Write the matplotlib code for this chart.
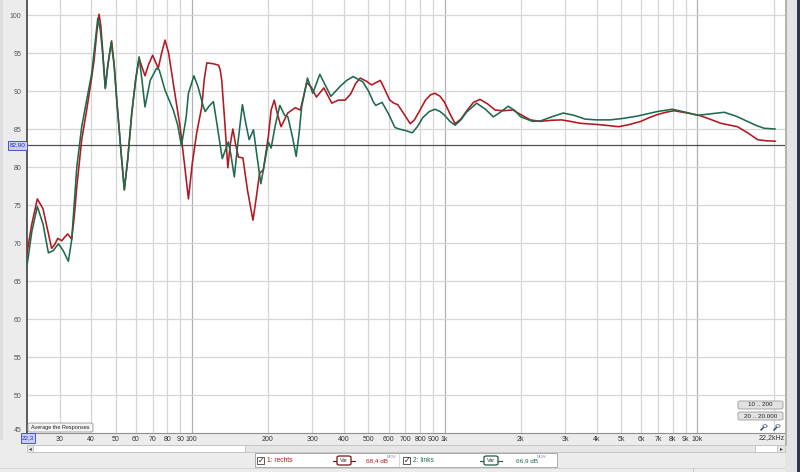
import matplotlib
matplotlib.use('Agg')
import matplotlib.pyplot as plt
from matplotlib.patches import Rectangle, FancyBboxPatch, Circle
from matplotlib.lines import Line2D

# ---------------- data ----------------
freq_rechts = [22.3, 23.3, 24.5, 25.8, 27.0, 27.9, 28.7, 29.5, 30.6, 31.5, 32.3, 33.5, 34.3,
               35.1, 36.7, 38.4, 40.2, 41.1, 42.2, 43.0, 43.7, 44.4, 45.5, 46.6, 48.2, 49.3,
               50.5, 52.5, 54.1, 55.8, 57.9, 60.0, 61.9, 63.5, 65.3, 67.5, 70.0, 73.7, 76.0,
               78.4, 81.0, 84.5, 89.9, 93.5, 97.0, 100.5, 104.6, 109.5, 112, 114.7, 121, 127.6,
               129.5, 131.4, 135, 138.9, 142, 145.4, 149, 153, 159.3, 166, 174.6, 180, 185.4,
               191.8, 200.8, 206, 212, 218, 225.5, 239.7, 256.6, 268.9, 285, 297, 311, 333, 358,
               380, 404, 425, 445, 464, 490, 514, 535, 557, 580, 607, 630, 653, 690, 731, 760,
               800, 840, 880, 916, 960, 1000, 1050, 1100, 1160, 1230, 1300, 1380, 1480, 1583,
               1700, 1862, 2000, 2183, 2391, 2650, 2900, 3150, 3435, 4000, 4450, 4880, 5400,
               5965, 6450, 6951, 7500, 8087, 9139, 10162, 11200, 12377, 14400, 15800, 17300,
               18700, 20270]
db_rechts = [68.7, 72.5, 75.8, 74.5, 71.5, 69.3, 69.8, 70.6, 70.3, 70.8, 71.2, 70.5, 73.5,
             77.4, 83.6, 87.5, 91.8, 94.1, 98.0, 100.1, 98.5, 95.4, 90.4, 93.5, 96.6, 93.5,
             88.8, 82.0, 77.0, 81.0, 87.1, 91.5, 94.3, 93.2, 92.0, 93.5, 94.7, 93.0, 95.0,
             96.7, 95.0, 91.0, 85.3, 80.5, 75.8, 80.5, 84.5, 87.9, 91.5, 93.7, 93.6, 93.4,
             92.8, 91.4, 86.0, 79.9, 83.0, 85.0, 83.0, 81.3, 81.2, 77.0, 73.0, 76.0, 79.2,
             79.6, 84.0, 87.5, 88.8, 87.0, 85.3, 87.1, 87.8, 87.5, 91.1, 90.5, 89.2, 90.4, 88.4,
             88.8, 88.8, 89.6, 91.0, 91.7, 91.3, 90.8, 91.1, 91.4, 90.2, 88.8, 88.4, 88.2, 87.0,
             85.7, 86.2, 87.5, 88.8, 89.5, 89.7, 89.3, 88.5, 87.0, 85.7, 86.3, 87.5, 88.5, 88.9,
             88.3, 87.5, 87.4, 87.5, 86.9, 86.2, 86.0, 86.15, 86.2, 86.0, 85.75, 85.6, 85.45,
             85.3, 85.6, 86.0, 86.5, 86.9, 87.2, 87.4, 87.1, 86.8, 86.3, 85.75, 85.3, 84.5, 83.6,
             83.45, 83.4]

freq_links = [22.3, 23.3, 24.5, 25.8, 27.1, 28.3, 29.7, 31.0, 32.5, 33.5, 35.1, 36.7, 38.4,
              40.2, 42.5, 43.5, 44.4, 45.5, 46.6, 48.0, 49.3, 50.5, 52.5, 54.1, 55.8, 57.9,
              60.0, 61.9, 63.5, 65.3, 68.5, 72.6, 74.3, 78.4, 84.5, 88.0, 91.0, 95.0, 97.0,
              102, 106, 111, 113, 117, 121.8, 126, 132, 139.5, 143, 147.3, 152, 158.6, 163,
              168.6, 175.4, 181, 187.6, 194, 200.8, 206, 214, 223, 233, 240, 250, 258.8, 266,
              272, 286.8, 301, 321, 355, 386, 410, 435, 475, 500, 522, 534, 566, 600, 636, 660,
              700, 745, 780, 820, 870, 916, 960, 1000, 1050, 1100, 1160, 1220, 1338, 1450,
              1559, 1660, 1784, 1900, 2000, 2230, 2391, 2650, 2946, 3250, 3597, 4000, 4518,
              5100, 5785, 6951, 7963, 9000, 10017, 11300, 12765, 14200, 15760, 17000, 18330,
              20270]
db_links = [67.0, 71.5, 74.8, 72.5, 68.7, 69.0, 69.9, 69.0, 67.6, 70.4, 80.0, 85.3, 88.8,
            92.3, 99.6, 98.0, 95.0, 90.3, 93.5, 96.4, 93.5, 88.8, 82.0, 77.0, 81.0, 87.1,
            91.5, 94.5, 91.5, 87.9, 91.4, 93.0, 92.8, 90.1, 87.5, 85.5, 82.8, 86.5, 89.7,
            92.0, 90.5, 88.0, 87.3, 88.0, 88.6, 85.5, 81.1, 83.3, 81.5, 78.7, 83.0, 88.2, 86.0,
            83.6, 84.9, 81.5, 77.8, 80.5, 83.3, 82.5, 85.5, 88.1, 86.8, 86.6, 84.0, 81.4, 84.5,
            87.9, 91.7, 89.7, 92.2, 89.3, 90.6, 91.4, 91.9, 91.2, 90.0, 88.6, 88.1, 88.5, 87.0,
            85.2, 85.0, 84.8, 84.5, 85.3, 86.5, 87.3, 87.6, 87.3, 86.8, 86.0, 85.5, 86.2, 87.2,
            88.4, 87.6, 86.6, 87.2, 88.0, 87.4, 86.6, 86.0, 86.05, 86.6, 87.1, 86.8, 86.3,
            86.2, 86.2, 86.4, 86.7, 87.3, 87.6, 87.2, 86.8, 87.0, 87.2, 86.7, 86.0, 85.5, 85.1,
            85.0]

grid_freqs = [30, 40, 50, 60, 70, 80, 90, 100, 200, 300, 400, 500, 600, 700, 800, 900,
              1000, 2000, 3000, 4000, 5000, 6000, 7000, 8000, 9000, 10000, 20000]
tick_freqs = [30, 40, 50, 60, 70, 80, 90, 100, 200, 300, 400, 500, 600, 700, 800, 900,
              1000, 2000, 3000, 4000, 5000, 6000, 7000, 8000, 9000, 10000]
tick_labels = ['30', '40', '50', '60', '70', '80', '90', '100', '200', '300', '400', '500',
               '600', '700', '800', '900', '1k', '2k', '3k', '4k', '5k', '6k', '7k', '8k',
               '9k', '10k']
db_ticks = [50, 55, 60, 65, 70, 75, 80, 85, 90, 95, 100]
ref_level = 82.90
legend_names = ['1: rechts', '2: links']
legend_values = ['68,4 dB', '66,9 dB']

RED = '#b3161f'
GREEN = '#1d6b4c'
FONT = 'Liberation Sans'

W, H = 800, 472
fig = plt.figure(figsize=(8, 4.72), dpi=100)
fig.patch.set_facecolor('#ececec')


def fx(x):
    return x / W


def fy(y):
    return 1 - y / H


# left panel slightly darker strip
fig.patches.append(Rectangle((0, fy(440)), fx(3), 440 / H, transform=fig.transFigure,
                             facecolor='#dedede', edgecolor='none'))

ax = fig.add_axes([fx(27), fy(433), (785 - 27) / W, 433 / H])
ax.set_facecolor('white')
ax.set_xscale('log')
ax.set_xlim(22.3, 22200)
ax.set_ylim(45, 100 + 15 / 7.6)

for f in grid_freqs:
    c = '#b0b0b0' if f in (100, 1000, 10000) else '#d6d6d6'
    ax.axvline(f, color=c, lw=0.9, zorder=1)
for d in range(50, 101, 5):
    ax.axhline(d, color='#d6d6d6', lw=0.9, zorder=1)

ax.axhline(ref_level, color='#505050', lw=0.9, zorder=2)

ax.plot(freq_rechts, db_rechts, color=RED, lw=1.15, zorder=3, solid_joinstyle='round')
ax.plot(freq_links, db_links, color=GREEN, lw=1.15, zorder=4, solid_joinstyle='round')

ax.set_xticks(tick_freqs)
ax.set_xticklabels(tick_labels)
ax.xaxis.set_minor_locator(matplotlib.ticker.NullLocator())
ax.set_yticks(db_ticks)
ax.set_yticklabels([str(v) for v in db_ticks])
ax.tick_params(axis='x', length=0, pad=2.5, labelsize=5, labelcolor='#333333')
ax.tick_params(axis='y', length=0, pad=4, labelsize=5, labelcolor='#555555')
for lab in ax.get_xticklabels() + ax.get_yticklabels():
    lab.set_fontfamily(FONT)

for s in ('top', 'right'):
    ax.spines[s].set_visible(False)
ax.spines['left'].set_color('#404040')
ax.spines['left'].set_linewidth(1.2)
ax.spines['bottom'].set_color('#909090')
ax.spines['bottom'].set_linewidth(0.8)

# "45" label at bottom of y axis
fig.text(fx(22), fy(430), '45', fontsize=5, ha='right', va='center', color='#555555',
         family=FONT)


def blue_box(x0, y0, x1, y1, txt):
    fig.patches.append(Rectangle((fx(x0), fy(y1)), (x1 - x0) / W, (y1 - y0) / H,
                                 transform=fig.transFigure, facecolor='#c9cdf5',
                                 edgecolor='#4a52c8', lw=0.7, zorder=10))
    fig.text(fx((x0 + x1) / 2), fy((y0 + y1) / 2), txt, fontsize=4.6, ha='center',
             va='center', color='#2a32b0', family=FONT, zorder=11)


blue_box(8, 141, 27, 149.5, '82,90')
blue_box(21, 433, 35, 443, '22,3')

fig.text(fx(785), fy(438), '22,2kHz', fontsize=5, ha='right', va='center', color='#333333',
         family=FONT)

# right border
fig.patches.append(Rectangle((fx(785), 0), fx(15), 1, transform=fig.transFigure,
                             facecolor='#e4e4e4', edgecolor='none', zorder=5))
fig.lines.append(Line2D([fx(786), fx(786)], [fy(445), 1], transform=fig.transFigure,
                        color='#a8a8a8', lw=1.2, zorder=6))
fig.patches.append(Rectangle((fx(797), 0), fx(3), 1, transform=fig.transFigure,
                             facecolor='#2b3850', edgecolor='none', zorder=6))

# Average the Responses button
fig.patches.append(FancyBboxPatch((fx(28), fy(432)), (93 - 28) / W, 9 / H,
                                  boxstyle='round,pad=0,rounding_size=0.003',
                                  transform=fig.transFigure, facecolor='#f4f4f4',
                                  edgecolor='#9a9a9a', lw=0.6, zorder=10))
fig.text(fx(60.5), fy(427.5), 'Average the Responses', fontsize=4.0, ha='center',
         va='center', color='#222222', family=FONT, zorder=11)

# range buttons
for (y0, txt) in ((401, '10 .. 200'), (412, '20 .. 20.000')):
    fig.patches.append(FancyBboxPatch((fx(738), fy(y0 + 8)), 45 / W, 8 / H,
                                      boxstyle='round,pad=0,rounding_size=0.003',
                                      transform=fig.transFigure, facecolor='#e2e2e2',
                                      edgecolor='#9a9a9a', lw=0.6, zorder=10))
    fig.text(fx(760.5), fy(y0 + 4), txt, fontsize=4.5, ha='center', va='center',
             color='#222222', family=FONT, zorder=11)

# magnifier icons
for cx in (765, 778):
    fig.patches.append(Circle((fx(cx), fy(426)), 2.2 / W, transform=fig.transFigure,
                              facecolor='none', edgecolor='#5a6a8a', lw=0.6, zorder=10))
    fig.lines.append(Line2D([fx(cx - 1.5), fx(cx - 4)], [fy(427.5), fy(430)],
                            transform=fig.transFigure, color='#2a3a6a', lw=1.0, zorder=10))

# scroll bar
fig.patches.append(Rectangle((fx(27), fy(452)), (785 - 27) / W, 7 / H,
                             transform=fig.transFigure, facecolor='#e6e6e6',
                             edgecolor='#b8b8b8', lw=0.5, zorder=8))
fig.patches.append(Rectangle((fx(33), fy(452)), (245 - 33) / W, 7 / H,
                             transform=fig.transFigure, facecolor='white',
                             edgecolor='#b8b8b8', lw=0.5, zorder=9))
fig.patches.append(Rectangle((fx(755), fy(452)), (777 - 755) / W, 7 / H,
                             transform=fig.transFigure, facecolor='white',
                             edgecolor='#b8b8b8', lw=0.5, zorder=9))
fig.text(fx(30), fy(448.5), '◂', fontsize=4, ha='center', va='center', color='#333333',
         zorder=10)
fig.text(fx(781), fy(448.5), '▸', fontsize=4, ha='center', va='center', color='#333333',
         zorder=10)

# legend panel
fig.patches.append(Rectangle((fx(255), fy(467)), (557 - 255) / W, 14 / H,
                             transform=fig.transFigure, facecolor='white',
                             edgecolor='#a0a0a0', lw=0.6, zorder=8))
fig.lines.append(Line2D([fx(399), fx(399)], [fy(466), fy(454)], transform=fig.transFigure,
                        color='#d0d0d0', lw=0.6, zorder=9))

entries = [(257, 267, 337, 366, 387, RED, '#7a1010'),
           (403, 413, 484, 516, 537, GREEN, '#1d5a40')]
for (cbx, tx, vx, valx, mx, col, badge), name, val in zip(entries, legend_names,
                                                           legend_values):
    fig.patches.append(Rectangle((fx(cbx), fy(464)), 7 / W, 7 / H,
                                 transform=fig.transFigure, facecolor='white',
                                 edgecolor='#404040', lw=0.6, zorder=10))
    fig.text(fx(cbx + 3.8), fy(460.3), '✓', fontsize=5.5, ha='center', va='center',
             color='#202020', family='DejaVu Sans', zorder=11)
    fig.text(fx(tx), fy(460.5), name, fontsize=4.8, ha='left', va='center', color=col,
             family=FONT, zorder=11)
    fig.lines.append(Line2D([fx(vx - 4), fx(vx + 18)], [fy(460.5), fy(460.5)],
                            transform=fig.transFigure, color=badge, lw=0.8, zorder=10))
    fig.patches.append(FancyBboxPatch((fx(vx), fy(465)), 14 / W, 9 / H,
                                      boxstyle='round,pad=0,rounding_size=0.003',
                                      transform=fig.transFigure, facecolor='white',
                                      edgecolor=badge, lw=0.9, zorder=11))
    fig.text(fx(vx + 7), fy(460.5), 'Var', fontsize=4, ha='center', va='center',
             color='#333333', family=FONT, zorder=12)
    fig.text(fx(valx), fy(460.5), val, fontsize=4.6, ha='left', va='center', color=col,
             family=FONT, zorder=11)
    fig.text(fx(mx), fy(456.5), 'MDW', fontsize=2.8, ha='left', va='center',
             color='#8a8ed0', family=FONT, zorder=11)

# bottom status bar separator
fig.lines.append(Line2D([0, 1], [fy(468), fy(468)], transform=fig.transFigure,
                        color='#d0d0d0', lw=0.6))
fig.lines.append(Line2D([fx(693), fx(693)], [fy(468), 0], transform=fig.transFigure,
                        color='#c0c0c0', lw=0.6))

fig.savefig('out.png', dpi=100, facecolor=fig.get_facecolor())
